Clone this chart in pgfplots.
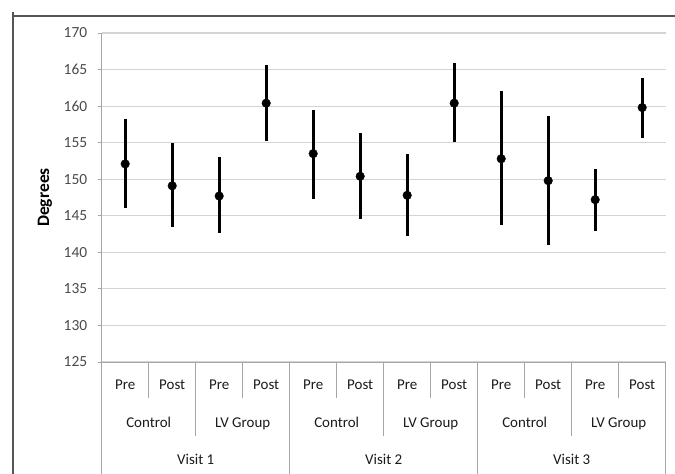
\documentclass[border=0pt]{standalone}
\usepackage{pgfplots}
\pgfplotsset{compat=1.18}
\usepackage{fontspec}
\setmainfont{Carlito}
\definecolor{tickgray}{HTML}{4A4A4A}
\definecolor{catcol}{HTML}{1A1A1A}
\definecolor{gridgray}{HTML}{D4D4D4}
\definecolor{axisgray}{HTML}{A6A6A6}
\definecolor{framegray}{HTML}{555555}
\pgfplotstableread{
x y ep em
0 152.1 6.1 6.1
1 149.1 5.8 5.7
2 147.7 5.4 5.1
3 160.4 5.2 5.2
4 153.5 6.0 6.2
5 150.4 5.9 5.8
6 147.8 5.6 5.5
7 160.4 5.5 5.3
8 152.8 9.2 9.1
9 149.8 8.9 8.8
10 147.2 4.2 4.3
11 159.8 4.1 4.1
}\datatable
\begin{document}
\begin{tikzpicture}[cat/.style={text=catcol, font=\fontsize{15}{15}\selectfont, anchor=base, inner sep=0pt}]
\useasboundingbox (0,0) rectangle (675bp,474bp);
\draw[framegray, line width=1.5bp] (13bp,458bp) -- (675bp,458bp);
\draw[framegray, line width=1.5bp] (13bp,462bp) -- (13bp,0);
\begin{axis}[
  at={(101.7bp,112bp)}, anchor=south west,
  scale only axis, width=564bp, height=329bp,
  xmin=-0.5, xmax=11.5, ymin=125, ymax=170,
  ytick={125,130,...,170},
  xtick=\empty,
  ymajorgrids, grid style={gridgray, line width=1.2bp},
  axis lines*=left,
  axis line style={axisgray, line width=1bp},
  tick align=outside, major tick length=4bp,
  y tick style={axisgray, line width=1bp},
  /pgf/number format/assume math mode=true,
  yticklabel style={font=\fontsize{15.5}{15.5}\selectfont, text=tickgray, xshift=-7bp},
  ylabel={\textbf{Degrees}},
  ylabel style={at={(axis description cs:-0.1005,0.5)}, anchor=center, font=\fontsize{17.5}{17.5}\selectfont},
  clip=false,
]
\addplot[only marks, mark=*, mark size=4.3bp, black,
  error bars/.cd, y dir=both, y explicit, error mark=none,
  error bar style={line width=2.8bp, black}]
  table[x=x, y=y, y error plus=ep, y error minus=em]{\datatable};
\pgfplotsinvokeforeach{0,2,4,6,8,10}{
  \node[cat] at ([yshift=-27.8bp]axis cs:#1,125) {Pre};}
\pgfplotsinvokeforeach{1,3,5,7,9,11}{
  \node[cat] at ([yshift=-27.8bp]axis cs:#1,125) {Post};}
\pgfplotsinvokeforeach{0.5,4.5,8.5}{
  \node[cat] at ([yshift=-65.5bp]axis cs:#1,125) {Control};}
\pgfplotsinvokeforeach{2.5,6.5,10.5}{
  \node[cat] at ([yshift=-65.5bp]axis cs:#1,125) {LV Group};}
\node[cat] at ([yshift=-102.8bp]axis cs:1.5,125) {Visit 1};
\node[cat] at ([yshift=-102.8bp]axis cs:5.5,125) {Visit 2};
\node[cat] at ([yshift=-102.8bp]axis cs:9.5,125) {Visit 3};
\pgfplotsinvokeforeach{0.5,2.5,4.5,6.5,8.5,10.5}{
  \draw[axisgray, line width=1bp] (axis cs:#1,125) -- ([yshift=-36bp]axis cs:#1,125);}
\pgfplotsinvokeforeach{1.5,5.5,9.5}{
  \draw[axisgray, line width=1bp] (axis cs:#1,125) -- ([yshift=-74bp]axis cs:#1,125);}
\pgfplotsinvokeforeach{-0.5,3.5,7.5,11.5}{
  \draw[axisgray, line width=1bp] (axis cs:#1,125) -- ([yshift=-112bp]axis cs:#1,125);}
\end{axis}
\end{tikzpicture}
\end{document}
